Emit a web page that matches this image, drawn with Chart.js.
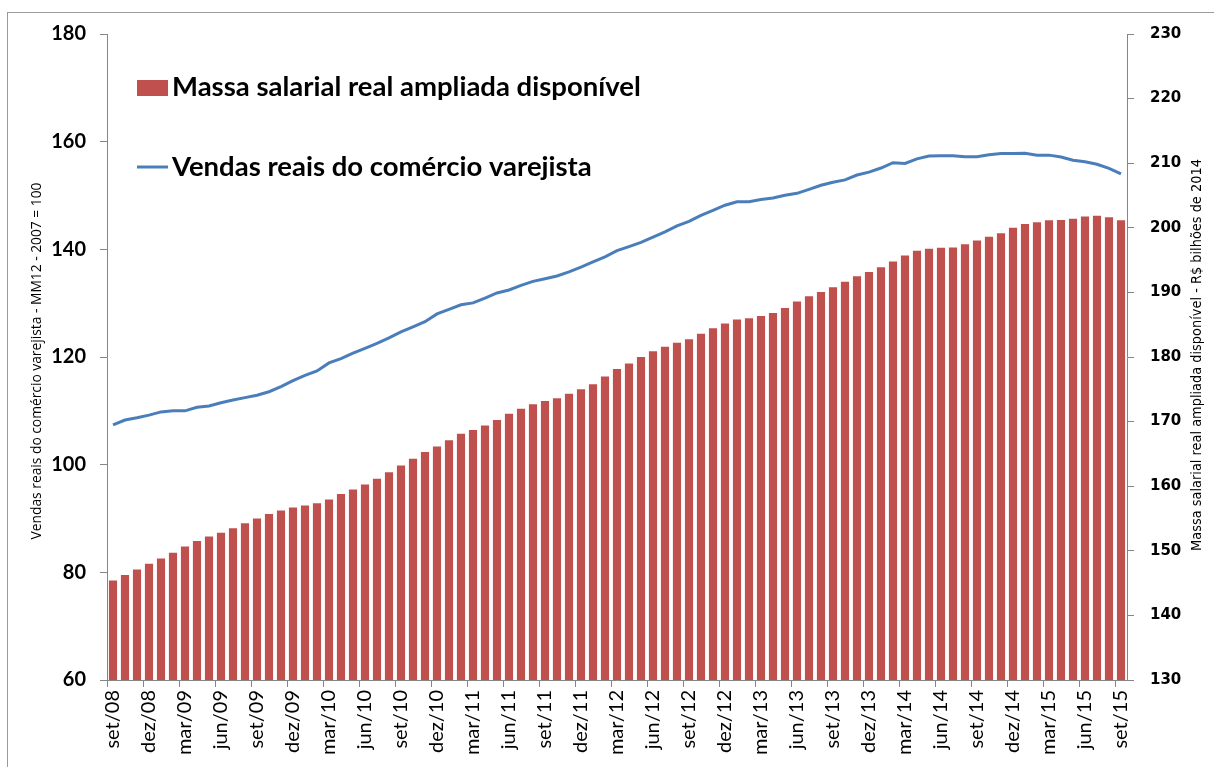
<!DOCTYPE html>
<html>
<head>
<meta charset="utf-8">
<script src="https://cdn.jsdelivr.net/npm/chart.js@4.4.1/dist/chart.umd.min.js"></script>
<style>
  html, body { margin: 0; padding: 0; background: #ffffff; overflow: hidden; }
  canvas { display: block; }
</style>
</head>
<body>
<canvas id="chart" width="1214" height="767"></canvas>
<script>
// Month abbreviations (pt-BR) used to build the category axis: set/08 ... set/15
const monthNames = ['jan', 'fev', 'mar', 'abr', 'mai', 'jun', 'jul', 'ago', 'set', 'out', 'nov', 'dez'];
const startMonthIndex = 8;   // setembro
const startYear = 8;         // 2008
const monthCount = 85;

const categories = [];
for (let i = 0; i < monthCount; i++) {
  const m = (startMonthIndex + i) % 12;
  const y = startYear + Math.floor((startMonthIndex + i) / 12);
  categories.push(monthNames[m] + '/' + String(y).padStart(2, '0'));
}

// Massa salarial real ampliada disponível - R$ bilhões de 2014 (right axis)
const massaSalarial = [
  145.4, 146.25, 147.1, 148.0, 148.8, 149.7, 150.65, 151.5, 152.2, 152.8,
  153.5, 154.25, 155.0, 155.7, 156.25, 156.7, 157.0, 157.35, 157.95, 158.8,
  159.5, 160.25, 161.15, 162.15, 163.2, 164.25, 165.3, 166.15, 167.1, 168.1,
  168.7, 169.4, 170.25, 171.2, 172.0, 172.7, 173.2, 173.6, 174.3, 175.0,
  175.8, 177.0, 178.15, 179.0, 180.0, 180.9, 181.6, 182.2, 182.75, 183.6,
  184.45, 185.2, 185.8, 186.0, 186.35, 186.8, 187.6, 188.6, 189.4, 190.05,
  190.8, 191.65, 192.5, 193.15, 193.9, 194.8, 195.7, 196.45, 196.75, 196.9,
  196.95, 197.45, 198.05, 198.6, 199.15, 200.0, 200.6, 200.85, 201.15, 201.2,
  201.4, 201.75, 201.85, 201.65, 201.15
];

// Vendas reais do comércio varejista - MM12 - 2007 = 100 (left axis)
const vendasVarejo = [
  107.4, 108.3, 108.7, 109.2, 109.8, 110.0, 110.0, 110.65, 110.9, 111.5,
  112.0, 112.45, 112.9, 113.55, 114.5, 115.6, 116.6, 117.4, 118.9, 119.7,
  120.7, 121.6, 122.55, 123.55, 124.65, 125.6, 126.55, 128.0, 128.85, 129.7,
  130.05, 130.95, 131.9, 132.45, 133.3, 134.05, 134.55, 135.05, 135.8, 136.7,
  137.65, 138.6, 139.75, 140.5, 141.3, 142.25, 143.25, 144.35, 145.2, 146.3,
  147.25, 148.2, 148.85, 148.85, 149.25, 149.55, 150.05, 150.4, 151.15, 151.9,
  152.45, 152.9, 153.8, 154.35, 155.1, 156.1, 155.95, 156.8, 157.35, 157.4,
  157.4, 157.2, 157.2, 157.55, 157.8, 157.8, 157.85, 157.5, 157.5, 157.15,
  156.55, 156.25, 155.8, 155.05, 154.0
];

const leftAxisTitle = 'Vendas reais do comércio varejista - MM12 - 2007 = 100';
const rightAxisTitle = 'Massa salarial real ampliada disponível - R$ bilhões de 2014';

const axisGray = '#868686';
const barRed = '#C0504D';
const lineBlue = '#4A7EBB';

// Frame, rotated axis titles and in-plot legend
const decorPlugin = {
  id: 'decor',
  beforeDraw(chart) {
    const ctx = chart.ctx;
    ctx.save();
    ctx.fillStyle = '#ffffff';
    ctx.fillRect(0, 0, chart.width, chart.height);
    ctx.restore();
  },
  afterDraw(chart) {
    const ctx = chart.ctx;
    const area = chart.chartArea;
    const midY = (area.top + area.bottom) / 2;
    ctx.save();

    // outer frame
    ctx.strokeStyle = '#9a9a9a';
    ctx.lineWidth = 1;
    ctx.strokeRect(7.5, 12.5, chart.width + 20, chart.height + 20);

    // axis titles, both reading bottom to top
    ctx.fillStyle = '#000000';
    ctx.textAlign = 'center';
    ctx.textBaseline = 'middle';
    ctx.save();
    ctx.translate(37, midY + 4);
    ctx.rotate(-Math.PI / 2);
    ctx.font = '13.8px "Open Sans", "Noto Sans", sans-serif';
    ctx.fillText(leftAxisTitle, 0, 0);
    ctx.restore();

    ctx.save();
    ctx.translate(1197, midY - 2);
    ctx.rotate(-Math.PI / 2);
    ctx.font = '14.4px "Liberation Sans Narrow", "DejaVu Sans Condensed", sans-serif';
    ctx.fillText(rightAxisTitle, 0, 0);
    ctx.restore();

    // legend
    const ds = chart.data.datasets;
    const barDs = ds.find(d => d.type === 'bar');
    const lineDs = ds.find(d => d.type === 'line');
    ctx.textAlign = 'left';
    ctx.textBaseline = 'alphabetic';
    ctx.font = 'bold 27.5px Lato, "Noto Sans", sans-serif';

    ctx.fillStyle = barDs.backgroundColor;
    ctx.fillRect(137, 80, 31, 16);
    ctx.fillStyle = '#000000';
    ctx.fillText(barDs.label, 172, 96);

    ctx.strokeStyle = lineDs.borderColor;
    ctx.lineWidth = 3;
    ctx.beginPath();
    ctx.moveTo(137, 167);
    ctx.lineTo(168, 167);
    ctx.stroke();
    ctx.fillText(lineDs.label, 172, 176);

    ctx.restore();
  }
};

new Chart(document.getElementById('chart'), {
  data: {
    labels: categories,
    datasets: [
      {
        type: 'line',
        label: 'Vendas reais do comércio varejista',
        data: vendasVarejo,
        yAxisID: 'y',
        borderColor: lineBlue,
        borderWidth: 3,
        pointRadius: 0,
        tension: 0,
        order: 0
      },
      {
        type: 'bar',
        label: 'Massa salarial real ampliada disponível',
        data: massaSalarial,
        yAxisID: 'y1',
        backgroundColor: barRed,
        borderWidth: 0,
        barPercentage: 0.68,
        categoryPercentage: 1.0,
        order: 1
      }
    ]
  },
  options: {
    responsive: false,
    animation: false,
    devicePixelRatio: 1,
    layout: { padding: { top: 34, left: 0, right: 0, bottom: 0 } },
    plugins: {
      legend: { display: false },
      tooltip: { enabled: false }
    },
    scales: {
      x: {
        type: 'category',
        offset: true,
        afterFit(scale) { scale.height = 87; },
        grid: {
          offset: true,
          drawOnChartArea: false,
          drawTicks: true,
          tickLength: 7,
          tickColor: (c) => (c.index % 3 === 0 ? axisGray : 'rgba(0,0,0,0)'),
          color: axisGray
        },
        border: { display: true, color: axisGray, width: 1 },
        ticks: {
          autoSkip: false,
          minRotation: 90,
          maxRotation: 90,
          padding: 3,
          color: '#000000',
          font: { family: 'Lato, "Noto Sans", sans-serif', size: 20 },
          callback(value, index) { return index % 3 === 0 ? categories[index] : ''; }
        }
      },
      y: {
        position: 'left',
        min: 60,
        max: 180,
        afterFit(scale) { scale.width = 107; },
        grid: { drawOnChartArea: false, tickLength: 7, tickColor: axisGray, color: axisGray },
        border: { display: true, color: axisGray, width: 1 },
        ticks: {
          stepSize: 20,
          padding: 14,
          color: '#000000',
          font: { family: 'Lato, "Noto Sans", sans-serif', size: 20, weight: 'bold' }
        }
      },
      y1: {
        position: 'right',
        min: 130,
        max: 230,
        afterFit(scale) { scale.width = 87; },
        grid: { drawOnChartArea: false, tickLength: 7, tickColor: axisGray, color: axisGray },
        border: { display: true, color: axisGray, width: 1 },
        ticks: {
          stepSize: 10,
          padding: 16,
          color: '#000000',
          font: { family: '"DejaVu Sans", sans-serif', size: 15, weight: 'bold' }
        }
      }
    }
  },
  plugins: [decorPlugin]
});
</script>
</body>
</html>
